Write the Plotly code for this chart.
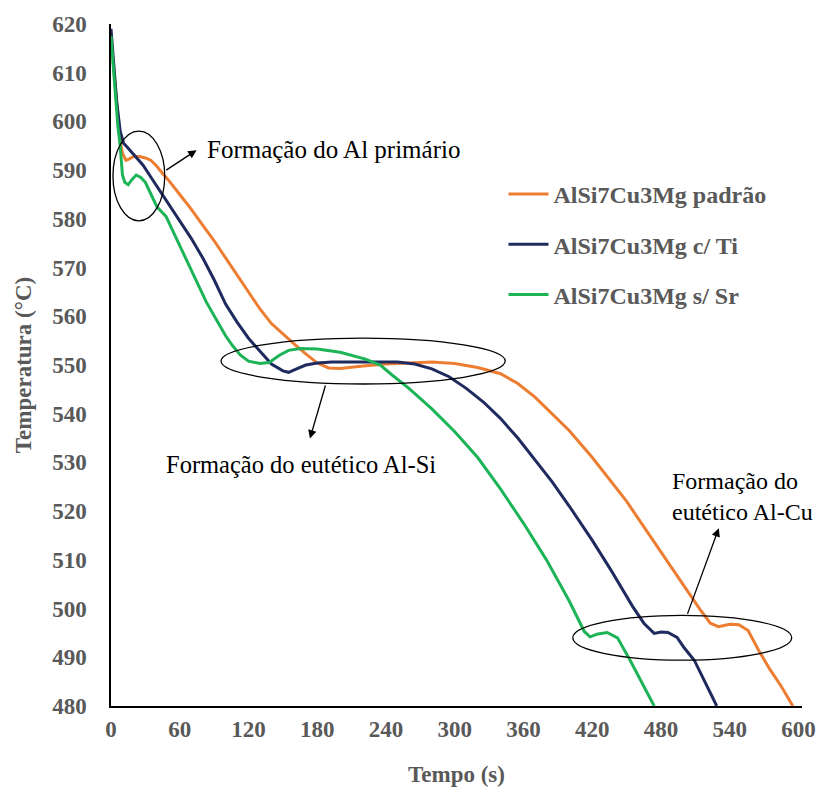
import plotly.graph_objects as go

# ---- data ----
t_padrao = [0, 2, 5, 8, 10, 13, 16, 20, 25, 30, 35, 40, 45, 50, 60, 70, 80, 90, 100, 110,
            120, 130, 140, 150, 160, 170, 180, 190, 200, 220, 240, 260, 280, 300, 320, 340,
            355, 370, 385, 400, 420, 440, 450, 460, 480, 500, 515, 523, 530, 540, 548, 556, 565,
            575, 585, 595]
T_padrao = [617, 612, 603, 596, 593.5, 592, 592.3, 592.8, 592.8, 592.5, 592, 590.8, 589.3, 588,
            585, 582, 578.7, 575.5, 572, 568.5, 565, 561.5, 558.5, 556.3, 554.3, 552.3, 550.4,
            549.4, 549.3, 549.8, 550.2, 550.4, 550.6, 550.3, 549.5, 548.2, 546.2, 543.4, 540,
            536.5, 531, 525, 522, 518.5, 511.5, 504.5, 499.5, 497, 496.3, 496.8, 496.7, 495.5,
            491.5, 487.5, 484, 480]

t_ti = [0, 2, 5, 8, 11, 15, 20, 28, 35, 42, 50, 60, 70, 80, 90, 100, 110, 120, 130, 140, 150,
        155, 162, 170, 180, 193, 220, 250, 265, 280, 295, 310, 325, 340, 355, 370, 385, 400,
        420, 436, 455, 465, 474, 480, 486, 494, 500, 509, 518, 528.6]
T_ti = [619, 613, 604, 598, 595.5, 594.5, 593.2, 591, 588.5, 586, 583, 579.5, 576, 572, 567.5,
        562.5, 558.8, 555.5, 552.8, 550.2, 548.8, 548.5, 549.2, 550, 550.4, 550.6, 550.6,
        550.6, 550.2, 549.2, 547.6, 545.2, 542.4, 539, 535, 530.6, 526, 521, 514, 508,
        500.5, 497, 494.9, 495.2, 495.1, 494.1, 492, 489.4, 485, 480]

t_sr = [0, 2, 4, 6, 8, 10, 12, 15, 18, 22, 26, 30, 35, 40, 48, 58, 67, 75, 83, 92, 100, 106,
        113, 120, 130, 138, 147, 155, 165, 180, 200, 222, 235, 245, 260, 280, 300, 320, 340,
        360, 380, 400, 413, 418, 425, 433, 442, 453, 463, 474]
T_sr = [617.5, 611, 605, 599, 595, 589, 587.5, 587, 588, 589, 588.5, 587.5, 585, 582.5, 580.5,
        575.5, 571, 567, 563, 559.3, 556, 554, 552, 550.8, 550.3, 550.5, 552, 553, 553.4,
        553.3, 552.6, 551.2, 550, 548, 545.2, 541, 536.3, 531, 524.5, 517.5, 510, 501.5,
        495.3, 494.2, 494.8, 495.1, 494, 489.4, 485, 480]

series_names = ["AlSi7Cu3Mg padrão", "AlSi7Cu3Mg c/ Ti", "AlSi7Cu3Mg s/ Sr"]
series_colors = ["#ED7D31", "#1F2A5E", "#1DB458"]
x_ticks = [0, 60, 120, 180, 240, 300, 360, 420, 480, 540, 600]
y_ticks = [480, 490, 500, 510, 520, 530, 540, 550, 560, 570, 580, 590, 600, 610, 620]

SERIF = "Liberation Serif, Times New Roman, serif"
GRAY = "#595959"

fig = go.Figure()
for i, (tt, TT) in enumerate([(t_padrao, T_padrao), (t_ti, T_ti), (t_sr, T_sr)]):
    fig.add_trace(go.Scatter(
        x=tt, y=TT, mode="lines", name=series_names[i],
        legendgroup=f"g{i}",
        line=dict(color=series_colors[i], width=3),
    ))

# ellipses
ellipses = [(1.7, 46.9, 579.6, 598.0), (96, 344, 546.1, 555.5), (403, 594, 489.4, 498.6)]
for x0, x1, y0, y1 in ellipses:
    fig.add_shape(type="circle", xref="x", yref="y", x0=x0, x1=x1, y0=y0, y1=y1,
                  line=dict(color="black", width=1.3))

# arrows (tail -> head)
arrows = [((46.9, 589.8), (74.7, 594.1)), ((187.5, 546.1), (173.6, 534.9)),
          ((502.6, 498.6), (530.4, 516.5))]
for (tx, ty), (hx, hy) in arrows:
    fig.add_annotation(x=hx, y=hy, ax=tx, ay=ty, xref="x", yref="y", axref="x", ayref="y",
                       text="", showarrow=True, arrowhead=2, arrowsize=1.3, arrowwidth=1.3,
                       arrowcolor="black")

# annotation texts
fig.add_annotation(x=81.6, y=594.3, xref="x", yref="y", text="Formação do Al primário",
                   showarrow=False, xanchor="left", yanchor="middle",
                   font=dict(family=SERIF, size=25, color="black"))
fig.add_annotation(x=165.5, y=529.6, xref="x", yref="y", text="Formação do eutético Al-Si",
                   showarrow=False, xanchor="center", yanchor="middle",
                   font=dict(family=SERIF, size=24.5, color="black"))
fig.add_annotation(x=488, y=523.0, xref="x", yref="y", text="Formação do<br>eutético Al-Cu",
                   showarrow=False, xanchor="left", yanchor="middle", align="left",
                   font=dict(family=SERIF, size=24, color="black"))

fig.update_layout(
    width=828, height=796,
    margin=dict(l=111, r=23, t=20, b=90),
    paper_bgcolor="white", plot_bgcolor="white",
    showlegend=True,
    legend=dict(x=0.568, y=0.783, xanchor="left", yanchor="top",
                font=dict(family=SERIF, size=24, color=GRAY, weight="bold"),
                tracegroupgap=16, traceorder="grouped", bgcolor="rgba(0,0,0,0)",
                itemwidth=40),
    xaxis=dict(range=[0, 603], tickvals=x_ticks, showgrid=False, zeroline=False,
               showline=True, linecolor="black", linewidth=1.5, ticks="",
               ticklabelstandoff=2,
               tickfont=dict(family=SERIF, size=23, color=GRAY, weight="bold"),
               title=dict(text="Tempo (s)", standoff=25,
                          font=dict(family=SERIF, size=23, color=GRAY, weight="bold"))),
    yaxis=dict(range=[480, 620], tickvals=y_ticks, showgrid=False, zeroline=False,
               showline=True, linecolor="black", linewidth=1.5, ticks="",
               ticklabelstandoff=18,
               tickfont=dict(family=SERIF, size=23, color=GRAY, weight="bold"),
               title=dict(text="Temperatura (°C)", standoff=14,
                          font=dict(family=SERIF, size=23, color=GRAY, weight="bold"))),
)

fig.write_html("out.html")
